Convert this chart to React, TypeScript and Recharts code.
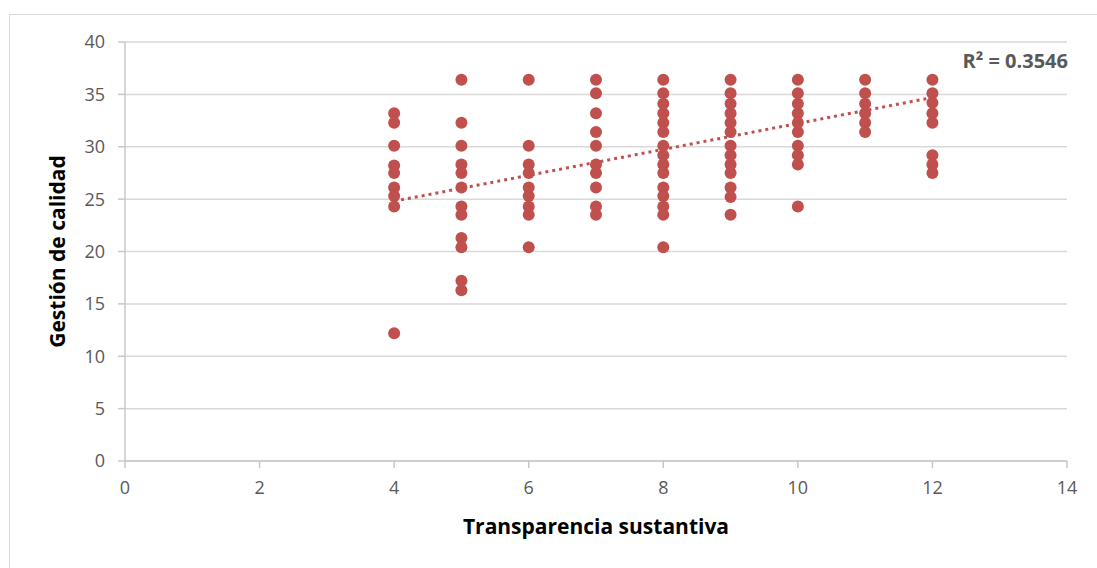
import React from "react";
import {
  ScatterChart,
  Scatter,
  XAxis,
  YAxis,
  CartesianGrid,
  Label,
} from "recharts";

// Gestión de calidad scores, one array per x level
const yAt4 = [33.2, 32.3, 30.1, 28.2, 27.5, 26.1, 25.3, 24.3, 12.2];
const yAt5 = [36.4, 32.3, 30.1, 28.3, 27.5, 26.1, 24.3, 23.5, 21.3, 20.4, 17.2, 16.3];
const yAt6 = [36.4, 30.1, 28.3, 27.5, 26.1, 25.3, 24.3, 23.5, 20.4];
const yAt7 = [36.4, 35.1, 33.2, 31.4, 30.1, 28.3, 27.5, 26.1, 24.3, 23.5];
const yAt8 = [36.4, 35.1, 34.1, 33.2, 32.3, 31.4, 30.1, 29.2, 28.3, 27.5, 26.1, 25.3, 24.3, 23.5, 20.4];
const yAt9 = [36.4, 35.1, 34.1, 33.2, 32.3, 31.4, 30.1, 29.2, 28.3, 27.5, 26.1, 25.2, 23.5];
const yAt10 = [36.4, 35.1, 34.1, 33.2, 32.3, 31.4, 30.1, 29.2, 28.3, 24.3];
const yAt11 = [36.4, 35.1, 34.1, 33.2, 32.3, 31.4];
const yAt12 = [36.4, 35.1, 34.2, 33.2, 32.3, 29.2, 28.3, 27.5];

const xLevels = [4, 5, 6, 7, 8, 9, 10, 11, 12];
const yByLevel = [yAt4, yAt5, yAt6, yAt7, yAt8, yAt9, yAt10, yAt11, yAt12];

// linear trendline end points
const trendX = [4, 12];
const trendY = [24.8, 34.7];

const xTicks = [0, 2, 4, 6, 8, 10, 12, 14];
const yTicks = [0, 5, 10, 15, 20, 25, 30, 35, 40];

const points = xLevels.flatMap((x, i) => yByLevel[i].map((y) => ({ x, y })));
const trend = trendX.map((x, i) => ({ x, y: trendY[i] }));

const RED = "#C0504D";
const FONT = "'Open Sans', 'Noto Sans', sans-serif";

const Dot = (props: any) => <circle cx={props.cx} cy={props.cy} r={6} fill={RED} />;

export default function App() {
  return (
    <div style={{ position: "relative", width: 1097, height: 568, overflow: "hidden", background: "#fff" }}>
      <style>{"body{margin:0;overflow:hidden}"}</style>
      <div
        style={{
          position: "absolute",
          left: 9,
          top: 14,
          width: 1200,
          height: 700,
          borderLeft: "1px solid #d9d9d9",
          borderTop: "1px solid #d9d9d9",
        }}
      />
      <div style={{ position: "absolute", left: 0, top: 0 }}>
        <ScatterChart
          width={1097}
          height={568}
          margin={{ top: 42, right: 30, bottom: 47, left: 58 }}
          style={{ fontFamily: FONT }}
        >
          <CartesianGrid vertical={false} stroke="#d9d9d9" strokeWidth={1.5} />
          <XAxis
            type="number"
            dataKey="x"
            domain={[0, 14]}
            ticks={xTicks}
            interval={0}
            height={60}
            stroke="#c8c8c8"
            strokeWidth={1.5}
            tickSize={7}
            tickMargin={13}
            tick={{ fill: "#595959", fontSize: 18 }}
          >
            <Label
              value="Transparencia sustantiva"
              position="bottom"
              offset={-2}
              style={{ fill: "#000", fontSize: 21, fontWeight: 700 }}
            />
          </XAxis>
          <YAxis
            type="number"
            dataKey="y"
            domain={[0, 40]}
            ticks={yTicks}
            interval={0}
            width={67}
            stroke="#c8c8c8"
            strokeWidth={1.5}
            tickSize={7}
            tickMargin={13}
            tick={{ fill: "#595959", fontSize: 18 }}
          >
            <Label
              value="Gestión de calidad"
              angle={-90}
              position="insideLeft"
              offset={0}
              style={{ fill: "#000", fontSize: 21, fontWeight: 700, textAnchor: "middle" }}
            />
          </YAxis>
          <Scatter data={points} fill={RED} shape={Dot} isAnimationActive={false} />
          <Scatter
            data={trend}
            line={{ stroke: RED, strokeWidth: 3, strokeDasharray: "3 4" }}
            shape={() => <g />}
            isAnimationActive={false}
          />
        </ScatterChart>
      </div>
      <div
        style={{
          position: "absolute",
          right: 29,
          top: 47,
          fontFamily: FONT,
          fontSize: 20,
          fontWeight: 700,
          color: "#595959",
        }}
      >
        R² = 0.3546
      </div>
    </div>
  );
}
